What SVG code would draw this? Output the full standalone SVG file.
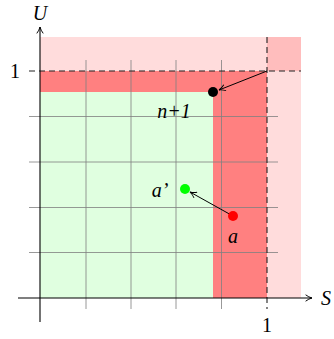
<svg xmlns="http://www.w3.org/2000/svg" width="334" height="339" viewBox="0 0 334 339">
<defs>
<style>
.grid{stroke:#808080;stroke-width:1;opacity:0.8}
.axis{stroke:#000;stroke-width:1.1;fill:none}
.dash{stroke:#222;stroke-width:1.1;stroke-dasharray:6,4;fill:none}
.lbl{font-family:"Liberation Serif","DejaVu Serif",serif;font-size:20px;fill:#000}
.it{font-style:italic}
.conn{stroke:#000;stroke-width:1;fill:none}
</style>
<marker id="ah" viewBox="0 0 10 10" refX="9" refY="5" markerWidth="8" markerHeight="8" orient="auto" markerUnits="userSpaceOnUse">
<path d="M1,1 Q5,4 9,5 Q5,6 1,9" fill="none" stroke="#000" stroke-width="1.2"/>
</marker>
</defs>
<g id="regions">
<rect x="40" y="37" width="261" height="261" fill="#ffdcdc"/>
<rect x="267" y="37" width="34" height="34" fill="#ffbdbd"/>
<rect x="40" y="71" width="227" height="227" fill="#ff8080"/>
<rect x="40" y="92" width="173" height="206" fill="#e0ffe0"/>
</g>
<g id="grid">
<line class="grid" x1="86" y1="60" x2="86" y2="309"/>
<line class="grid" x1="131" y1="60" x2="131" y2="309"/>
<line class="grid" x1="176" y1="60" x2="176" y2="309"/>
<line class="grid" x1="221.5" y1="60" x2="221.5" y2="309"/>
<line class="grid" x1="29" y1="116.5" x2="278" y2="116.5"/>
<line class="grid" x1="29" y1="162" x2="278" y2="162"/>
<line class="grid" x1="29" y1="207.5" x2="278" y2="207.5"/>
<line class="grid" x1="29" y1="252.5" x2="278" y2="252.5"/>
</g>
<g id="dashed">
<line class="dash" x1="29" y1="71" x2="301" y2="71"/>
<line class="dash" x1="267" y1="37" x2="267" y2="309"/>
</g>
<g id="axes">
<line class="axis" x1="18" y1="298" x2="312" y2="298" marker-end="url(#ah)"/>
<line class="axis" x1="40" y1="322" x2="40" y2="27" marker-end="url(#ah)"/>
<text class="lbl it" x="40" y="20" text-anchor="middle">U</text>
<text class="lbl it" x="321" y="305">S</text>
<text class="lbl" x="15" y="78" text-anchor="middle">1</text>
<text class="lbl" x="267" y="332" text-anchor="middle">1</text>
</g>
<g id="connectors">
<line class="conn" x1="267" y1="71" x2="219" y2="90" marker-end="url(#ah)"/>
<line class="conn" x1="233" y1="216" x2="190" y2="192" marker-end="url(#ah)"/>
</g>
<g id="node-n1">
<circle cx="213" cy="92" r="5" fill="#000"/>
<text class="lbl it" x="174" y="118" text-anchor="middle">n+1</text>
</g>
<g id="node-a-prime">
<circle cx="185" cy="189" r="5" fill="#00ff00"/>
<text class="lbl it" x="160" y="197" text-anchor="middle">a’</text>
</g>
<g id="node-a">
<circle cx="233" cy="216" r="5" fill="#ff0000"/>
<text class="lbl it" x="233" y="243" text-anchor="middle">a</text>
</g>
</svg>
